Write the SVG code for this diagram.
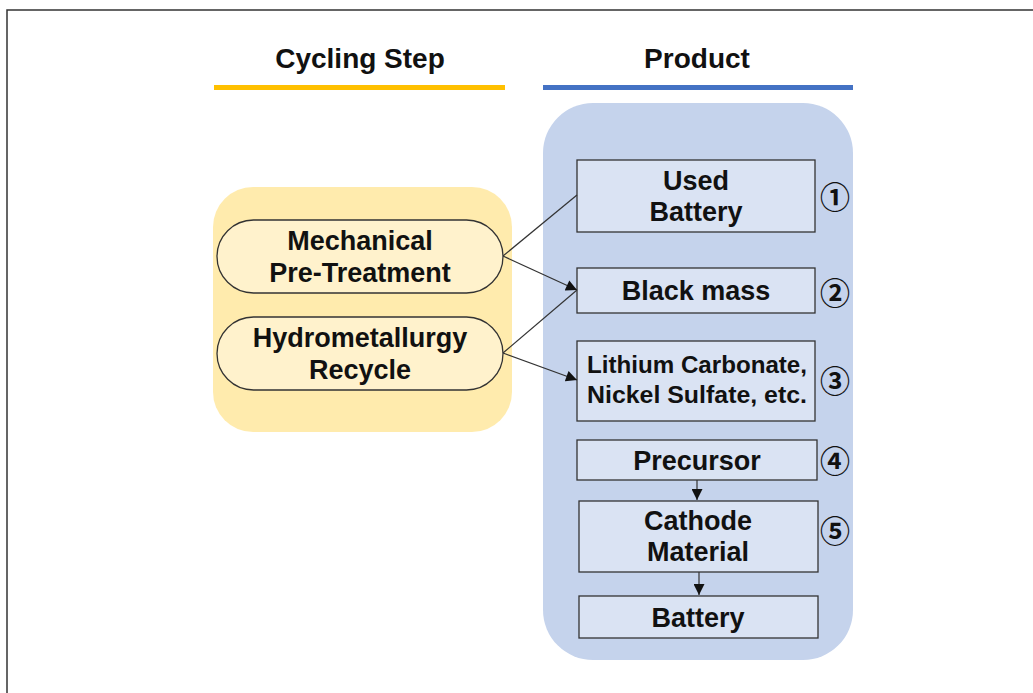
<svg xmlns="http://www.w3.org/2000/svg" width="1033" height="693" viewBox="0 0 1033 693">
  <style>
    .t { font-family: "Liberation Sans", Arial, sans-serif; font-weight: bold; fill: #111; text-anchor: middle; }
    .head { font-size: 28px; }
    .lbl { font-size: 27px; }
    .sm { font-size: 23px; }
    .num { font-family: "Noto Sans CJK KR", "DejaVu Sans", sans-serif; font-size: 30px; font-weight: bold; fill: #111; text-anchor: middle; }
    .pill { fill: #FFF2CC; stroke: #333; stroke-width: 1.3; }
    .box { fill: #DAE3F3; stroke: #333; stroke-width: 1.3; }
    .conn { stroke: #333; stroke-width: 1.2; fill: none; }
  </style>
  <defs>
    <marker id="arrow" viewBox="0 0 10 10" refX="10" refY="5" markerWidth="12" markerHeight="11" markerUnits="userSpaceOnUse" orient="auto">
      <path d="M0,0 L10,5 L0,10 z" fill="#111"/>
    </marker>
  </defs>

  <rect width="1033" height="693" fill="#fff"/>
  <!-- frame -->
  <path d="M7,693 V10 H1033" fill="none" stroke="#333" stroke-width="1.5"/>

  <!-- column headers -->
  <g id="header-cycling">
    <text class="t head" x="360" y="68">Cycling Step</text>
    <rect x="214" y="85" width="291" height="5" fill="#FFC000"/>
  </g>
  <g id="header-product">
    <text class="t head" x="697" y="68">Product</text>
    <rect x="543" y="85" width="310" height="5" fill="#4472C4"/>
  </g>

  <!-- background panels -->
  <rect id="panel-cycling" x="213" y="187" width="299" height="245" rx="40" fill="#FFE699" opacity="0.8"/>
  <rect id="panel-product" x="543" y="103" width="310" height="557" rx="50" fill="#C5D3EC"/>

  <!-- cycling steps -->
  <g id="step-mechanical">
    <rect class="pill" x="217" y="220" width="286" height="73" rx="36.5"/>
    <text class="t lbl" x="360" y="250">Mechanical</text>
    <text class="t lbl" x="360" y="282">Pre-Treatment</text>
  </g>
  <g id="step-hydro">
    <rect class="pill" x="217" y="317" width="286" height="73" rx="36.5"/>
    <text class="t lbl" x="360" y="347">Hydrometallurgy</text>
    <text class="t lbl" x="360" y="379">Recycle</text>
  </g>

  <!-- products -->
  <g id="used-battery">
    <rect class="box" x="577" y="160" width="238" height="72"/>
    <text class="t lbl" x="696" y="190">Used</text>
    <text class="t lbl" x="696" y="221">Battery</text>
    <text class="num" x="835" y="208">①</text>
  </g>
  <g id="black-mass">
    <rect class="box" x="577" y="268" width="238" height="45"/>
    <text class="t lbl" x="696" y="300">Black mass</text>
    <text class="num" x="835" y="304">②</text>
  </g>
  <g id="lithium">
    <rect class="box" x="577" y="341" width="238" height="80"/>
    <text class="t sm" x="697" y="373" textLength="220" lengthAdjust="spacingAndGlyphs">Lithium Carbonate,</text>
    <text class="t sm" x="697" y="403" textLength="220" lengthAdjust="spacingAndGlyphs">Nickel Sulfate, etc.</text>
    <text class="num" x="835" y="392">③</text>
  </g>
  <g id="precursor">
    <rect class="box" x="577" y="440" width="240" height="40"/>
    <text class="t lbl" x="697" y="470">Precursor</text>
    <text class="num" x="835" y="472">④</text>
  </g>
  <g id="cathode">
    <rect class="box" x="579" y="501" width="239" height="71"/>
    <text class="t lbl" x="698" y="530">Cathode</text>
    <text class="t lbl" x="698" y="561">Material</text>
    <text class="num" x="835" y="542">⑤</text>
  </g>
  <g id="battery">
    <rect class="box" x="579" y="596" width="239" height="42"/>
    <text class="t lbl" x="698" y="627">Battery</text>
  </g>

  <!-- connectors -->
  <g id="connectors">
    <line class="conn" x1="503" y1="256" x2="577" y2="195"/>
    <line class="conn" x1="503" y1="256" x2="577" y2="290" marker-end="url(#arrow)"/>
    <line class="conn" x1="503" y1="353" x2="577" y2="290"/>
    <line class="conn" x1="503" y1="353" x2="577" y2="380" marker-end="url(#arrow)"/>
    <line class="conn" x1="697" y1="480" x2="697" y2="500" marker-end="url(#arrow)"/>
    <line class="conn" x1="699" y1="572" x2="699" y2="595" marker-end="url(#arrow)"/>
  </g>
</svg>
